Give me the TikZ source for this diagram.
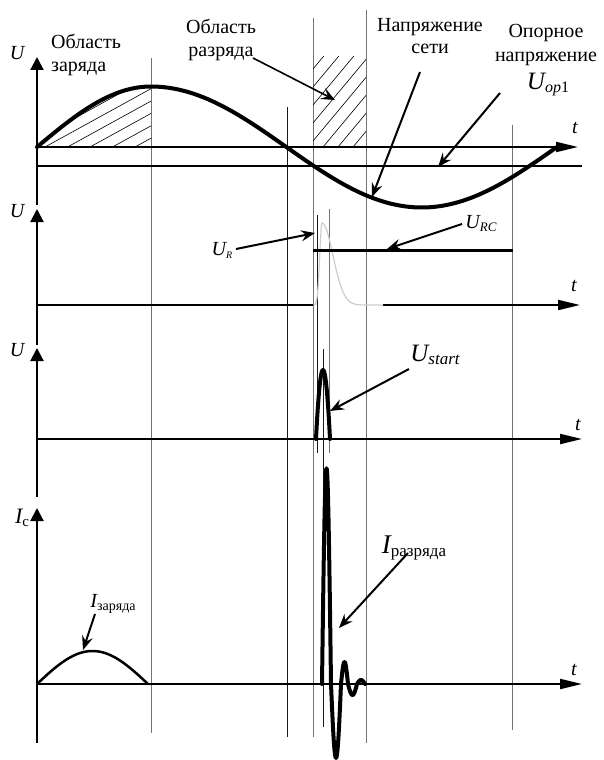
\documentclass[tikz,border=0pt]{standalone}
\usepackage{fontspec}
\setmainfont{Liberation Serif}
\usetikzlibrary{arrows.meta}
\newcommand{\lowsub}[2]{\raisebox{-0.3em}{\fontsize{#1}{#1}\selectfont #2}}
\begin{document}
\begin{tikzpicture}[x=1pt,y=-1pt,
  declare function={ph(\x)=(\x<151)*(\x-37)*0.78947+(\x>=151)*(90+(\x-151)*0.66502);
                    net(\x)=147-60.5*sin(ph(\x));},
  gridg/.style={line width=0.9pt, draw=black!55},
  gridk/.style={line width=0.9pt, draw=black!90},
  vaxis/.style={line width=2pt, -{Triangle[length=13pt,width=13pt]}},
  taxis/.style={line width=2pt, -{Triangle[length=22pt,width=10pt]}},
  curve/.style={line width=4pt, line join=round, line cap=round},
  callout/.style={line width=2pt, -{Stealth[length=14pt,width=11pt,inset=5pt]}},
  lbl/.style={font=\fontsize{20}{23}\selectfont, inner sep=0pt},
  ulbl/.style={font=\fontsize{20}{20}\selectfont\itshape, inner sep=0pt},
  hatchline/.style={line width=0.6pt},
]
\useasboundingbox (0,0) rectangle (603,760);

% thin vertical time markers
\draw[gridg] (151,58) -- (151,733);
\draw[gridk] (287,107) -- (287,737);
\draw[gridg] (313,18) -- (313,737);
\draw[gridk] (317,215) -- (317,453);
\draw[gridg] (329,209) -- (329,453);
\draw[gridk] (323,349) -- (323,727);
\draw[gridg] (366,10) -- (366,743);
\draw[gridg] (512,125) -- (512,730);

% hatched areas
\begin{scope}
  \clip plot[domain=37:151,samples=40] (\x,{net(\x)}) -- (151,147) -- cycle;
  \foreach \k in {0,...,14} \draw[hatchline] ({135-22.5*\k},147) -- ++(200,-110);
\end{scope}
\begin{scope}
  \clip (313,57) rectangle (366,147);
  \foreach \k in {0,...,10} \draw[hatchline] ({368-15*\k},147) -- ++(100,-120);
\end{scope}

% panel 1
\draw[vaxis] (37,205) -- (37,57);
\draw[taxis] (37,147) -- (578,147);
\draw[line width=2.5pt] (37,166) -- (582,166);
\draw[curve] plot[domain=37:557,samples=160] (\x,{net(\x)});
\node[ulbl] (u1) at (17,53) {U};
\node[ulbl] (t1) at (575,128) {t};

% panel 2
\draw[vaxis] (37,345) -- (37,209);
\draw[line width=2pt] (37,305) -- (313,305);
\draw[taxis] (383,305) -- (580,305);
\draw[line width=1.2pt, draw=black!20]
  plot[domain=314:322,samples=20] (\x,{305-82*exp(-((\x-322)/3.2)^2)})
  -- plot[domain=322:383,samples=60] (\x,{305-82*exp(-min(((\x-322)/15.5)^2,12))});
\draw[line width=3pt] (313,250) -- (513,250);
\node[ulbl] (u2) at (17,211) {U};
\node[ulbl] (t2) at (574,286) {t};

% panel 3
\draw[vaxis] (37,497) -- (37,348);
\draw[taxis] (37,439) -- (582,439);
\draw[curve] plot[domain=316:330,samples=40] (\x,{439-69*(1-((\x-323)/7)^2)});
\node[ulbl] (u3) at (17,350) {U};
\node[ulbl] (t3) at (578,425) {t};

% panel 4
\draw[vaxis] (37,743) -- (37,508);
\draw[taxis] (37,684) -- (582,684);
\draw[line width=2.5pt, line join=round] plot[domain=37:148,samples=60] (\x,{684-33*sin((\x-37)*1.6216)});
\draw[curve]
  plot[domain=322:331,samples=30] (\x,{684-216*sin(20*(\x-322))})
  -- plot[domain=331:341,samples=30] (\x,{684+74*sin(18*(\x-331))})
  -- plot[domain=341:348,samples=20] (\x,{684-22*sin(25.714*(\x-341))})
  -- plot[domain=348:357,samples=20] (\x,{684+11*sin(20*(\x-348))})
  -- plot[domain=357:365,samples=20] (\x,{684-4*sin(22.5*(\x-357))});
\node[inner sep=0pt] (ic) at (22,518) {{\fontsize{22}{22}\selectfont\itshape I}\lowsub{15}{c}};
\node[ulbl] (t4) at (574,670) {t};

% text labels
\node[lbl, align=left, anchor=west] (zar) at (51,55) {Область\\заряда};
\node[lbl, align=center] (raz) at (221,40) {Область\\разряда};
\node[lbl, align=center, font=\fontsize{20}{22}\selectfont] (net) at (430,36) {Напряжение\\сети};
\node[lbl, align=center, font=\fontsize{20}{24}\selectfont] (opor) at (546,45) {Опорное\\напряжение};
\node[inner sep=0pt] (uop) at (548,85) {{\fontsize{25}{25}\selectfont\itshape U}\lowsub{16}{\itshape op\upshape 1}};
\node[inner sep=0pt] (ur) at (222,250) {{\fontsize{20}{20}\selectfont\itshape U}\lowsub{10}{\itshape R}};
\node[inner sep=0pt] (urc) at (481,224) {{\fontsize{20}{20}\selectfont\itshape U}\lowsub{13}{\itshape RC}};
\node[inner sep=0pt] (ust) at (435,355) {{\fontsize{25}{25}\selectfont\itshape U}\lowsub{17}{\itshape start}};
\node[inner sep=0pt] (iraz) at (414,548) {{\fontsize{27}{27}\selectfont\itshape I}\lowsub{17}{разряда}};
\node[inner sep=0pt] (izar) at (113,604) {{\fontsize{20}{20}\selectfont\itshape I}\lowsub{14}{заряда}};

% callout end points
\coordinate (c1s) at (253,58);  \coordinate (c1e) at (335,100);
\coordinate (c2s) at (420,72);  \coordinate (c2e) at (372,197);
\coordinate (c3s) at (500,93);  \coordinate (c3e) at (438,167);
\coordinate (c4s) at (236,249); \coordinate (c4e) at (315,233);
\coordinate (c5s) at (462,224); \coordinate (c5e) at (387,249);
\coordinate (c6s) at (409,369); \coordinate (c6e) at (330,411);
\coordinate (c7s) at (408,553); \coordinate (c7e) at (339,628);
\coordinate (c8s) at (95,614);  \coordinate (c8e) at (83,650);

\draw[line width=1.6pt, -{Stealth[length=14pt,width=12pt,inset=6pt]}] (c1s) -- (c1e);
\draw[callout] (c2s) -- (c2e);
\draw[callout] (c3s) -- (c3e);
\draw[callout] (c4s) -- (c4e);
\draw[callout] (c5s) -- (c5e);
\draw[callout] (c6s) -- (c6e);
\draw[callout] (c7s) -- (c7e);
\draw[callout] (c8s) -- (c8e);
\end{tikzpicture}
\end{document}
